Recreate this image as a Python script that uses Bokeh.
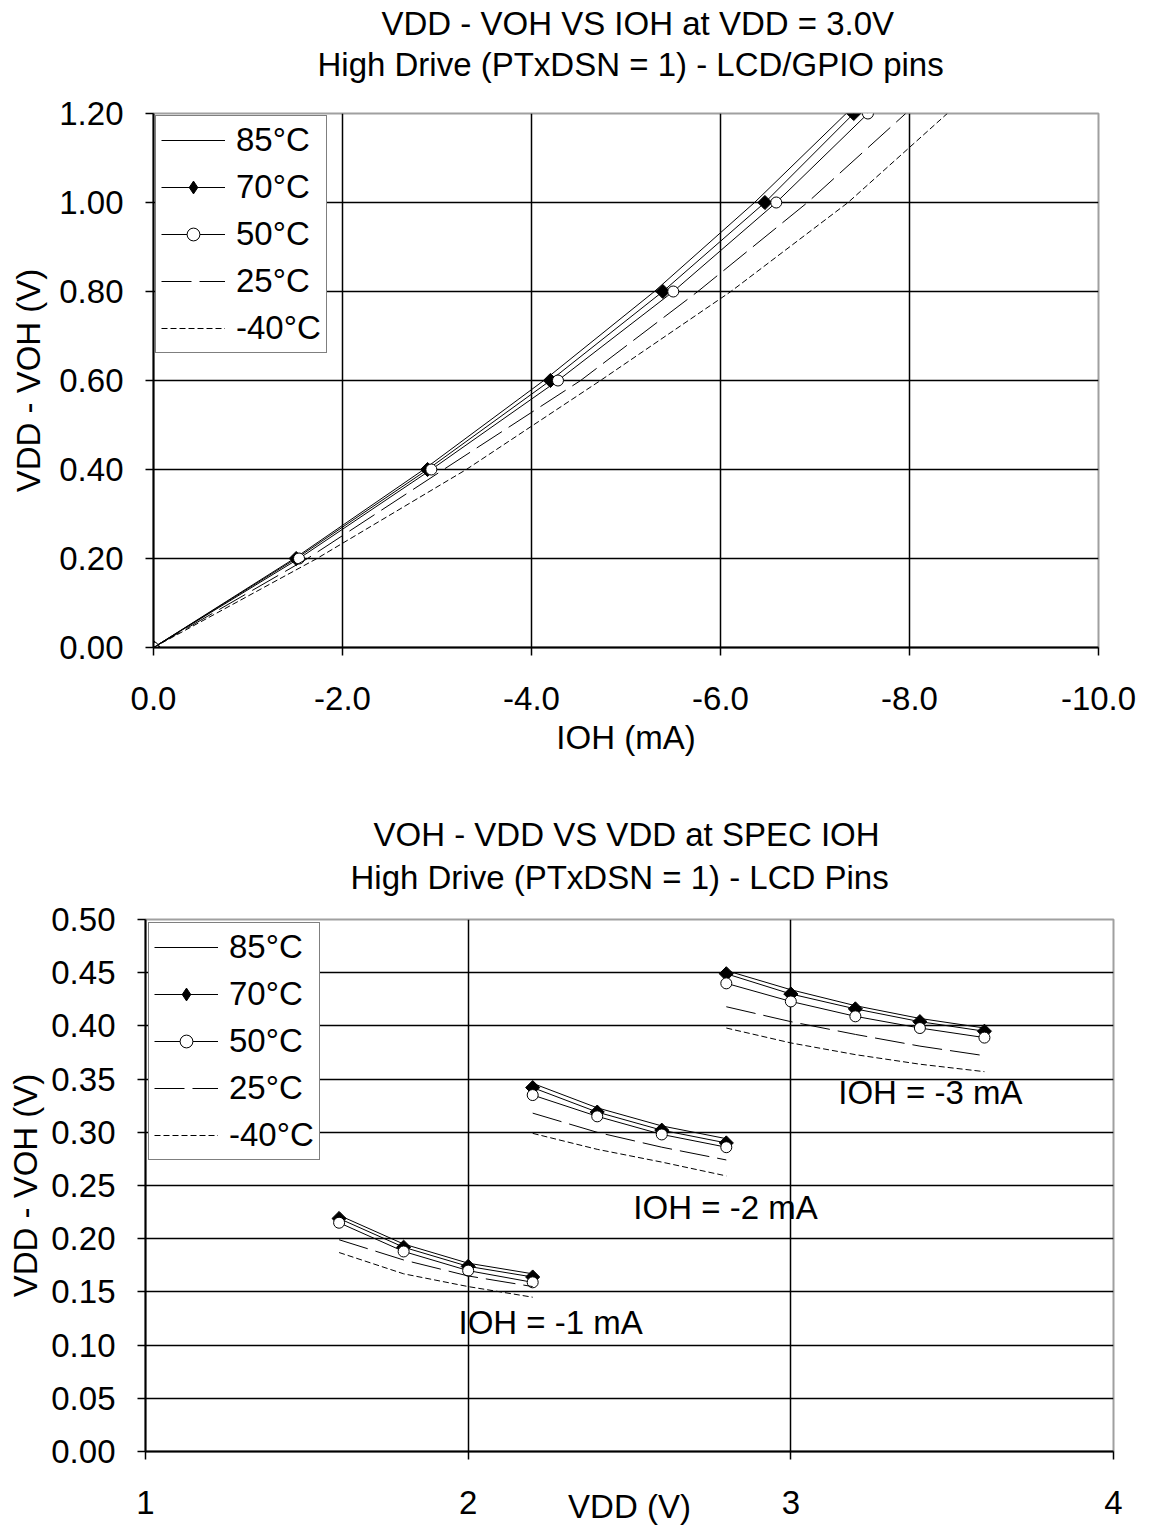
from bokeh.plotting import figure
from bokeh.models import Range1d, FixedTicker, NumeralTickFormatter, Legend, LegendItem, Label, Title
from bokeh.embed import file_html
from bokeh.resources import INLINE

FONT = "Liberation Sans"
FS = "33px"

# ---------------- Top chart data ----------------
vdrop_top = [0.0, 0.2, 0.4, 0.6, 0.8, 1.0, 1.2]
ioh_85 = [0.0, -1.49, -2.86, -4.13, -5.30, -6.36, -7.33]
ioh_70 = [0.0, -1.51, -2.90, -4.20, -5.39, -6.47, -7.41]
ioh_50 = [0.0, -1.54, -2.94, -4.28, -5.50, -6.59, -7.56]
ioh_25 = [0.0, -1.63, -3.07, -4.52, -5.76, -6.92, -7.96]
ioh_m40 = [0.0, -1.73, -3.31, -4.73, -6.11, -7.35, -8.40]
top_xticks = [0, -2, -4, -6, -8, -10]
top_yticks = [0.0, 0.2, 0.4, 0.6, 0.8, 1.0, 1.2]

# ---------------- Bottom chart data ----------------
vdd_1 = [1.6, 1.8, 2.0, 2.2]
v1_85 = [0.222, 0.195, 0.177, 0.167]
v1_70 = [0.219, 0.192, 0.174, 0.164]
v1_50 = [0.215, 0.188, 0.170, 0.159]
v1_25 = [0.199, 0.180, 0.165, 0.155]
v1_m40 = [0.187, 0.167, 0.155, 0.145]

vdd_2 = [2.2, 2.4, 2.6, 2.8]
v2_85 = [0.346, 0.323, 0.306, 0.294]
v2_70 = [0.342, 0.319, 0.302, 0.290]
v2_50 = [0.335, 0.315, 0.298, 0.286]
v2_25 = [0.318, 0.300, 0.286, 0.274]
v2_m40 = [0.299, 0.284, 0.272, 0.259]

vdd_3 = [2.8, 3.0, 3.2, 3.4, 3.6]
v3_85 = [0.452, 0.434, 0.419, 0.407, 0.398]
v3_70 = [0.449, 0.430, 0.416, 0.404, 0.395]
v3_50 = [0.440, 0.423, 0.409, 0.398, 0.389]
v3_25 = [0.418, 0.404, 0.392, 0.381, 0.372]
v3_m40 = [0.398, 0.384, 0.373, 0.364, 0.357]

bot_xticks = [1, 2, 3, 4]
bot_yticks = [0.0, 0.05, 0.10, 0.15, 0.20, 0.25, 0.30, 0.35, 0.40, 0.45, 0.50]

labels = ["85°C", "70°C", "50°C", "25°C", "-40°C"]
dashes = ["solid", "solid", "solid", "30 8", "6 3"]
markers = [None, "diamond", "circle", None, None]


def style(p, xticks, yticks, xfmt, yfmt, ylabel_standoff):
    p.background_fill_color = "white"
    p.border_fill_color = "white"
    p.outline_line_color = "#a0a0a0"
    p.outline_line_width = 2
    for ax in (p.xaxis[0], p.yaxis[0]):
        ax.axis_line_color = "black"
        ax.axis_line_width = 2
        ax.major_tick_line_color = "black"
        ax.major_tick_line_width = 1.5
        ax.major_tick_out = 8
        ax.major_tick_in = 0
        ax.minor_tick_line_color = None
        ax.major_label_text_font = FONT
        ax.major_label_text_font_size = FS
        ax.major_label_text_color = "black"
        ax.axis_label_text_font = FONT
        ax.axis_label_text_font_size = FS
        ax.axis_label_text_font_style = "normal"
        ax.axis_label_text_color = "black"
    p.xaxis[0].ticker = FixedTicker(ticks=xticks)
    p.yaxis[0].ticker = FixedTicker(ticks=yticks)
    p.xaxis[0].formatter = NumeralTickFormatter(format=xfmt)
    p.yaxis[0].formatter = NumeralTickFormatter(format=yfmt)
    p.xaxis[0].major_label_standoff = 31
    p.yaxis[0].major_label_standoff = 22
    p.yaxis[0].axis_label_standoff = ylabel_standoff
    p.xgrid[0].ticker = FixedTicker(ticks=xticks)
    p.ygrid[0].ticker = FixedTicker(ticks=yticks)
    for g in (p.xgrid[0], p.ygrid[0]):
        g.grid_line_color = "black"
        g.grid_line_width = 1.5


def draw_series(p, xs, ys, i, with_legend_proxy):
    rs = []
    rs.append(p.line(xs, ys, line_color="black", line_width=1, line_dash=dashes[i]))
    if markers[i] == "diamond":
        p.scatter(xs, ys, marker="square", angle=0.785398, size=10,
                  fill_color="black", line_color="black")
        if with_legend_proxy:
            # hidden diamond renderer used only for the legend swatch
            rs.append(p.scatter(xs, ys, marker="diamond", size=14, fill_color="black",
                                line_color="black", visible=False))
    elif markers[i] == "circle":
        rs.append(p.scatter(xs, ys, marker="circle", size=11, fill_color="white",
                            line_color="black", line_width=1))
    return rs


def make_legend(items, margin):
    leg = Legend(items=items, location="top_left")
    leg.margin = margin
    leg.padding = 5
    leg.spacing = 9
    leg.label_height = 38
    leg.glyph_height = 32
    leg.glyph_width = 64
    leg.label_standoff = 11
    leg.label_text_font = FONT
    leg.label_text_font_size = FS
    leg.label_text_color = "black"
    leg.border_line_color = "black"
    leg.border_line_width = 1.5
    leg.background_fill_color = "white"
    leg.background_fill_alpha = 1.0
    leg.inactive_fill_alpha = 0.0
    return leg


def add_titles(p, line1, line2, off1, off2, spacer, s1):
    p.add_layout(Title(text=" ", text_font_size="1px", standoff=spacer), "above")
    p.add_layout(Title(text=line2, align="left", offset=off2, text_font=FONT, text_font_size=FS,
                       text_font_style="normal", text_color="black", standoff=5), "above")
    p.add_layout(Title(text=line1, align="left", offset=off1, text_font=FONT, text_font_size=FS,
                       text_font_style="normal", text_color="black", standoff=s1), "above")


# ---------------- Top figure ----------------
p1 = figure(frame_width=945, frame_height=534,
            x_range=Range1d(0, -10), y_range=Range1d(0, 1.2),
            output_backend="svg", toolbar_location=None, title_location=None,
            min_border_left=153, min_border_right=40,
            min_border_top=113, min_border_bottom=113,
            x_axis_label="IOH (mA)", y_axis_label="VDD - VOH (V)")
style(p1, top_xticks, top_yticks, "0.0", "0.00", 9)
p1.xaxis[0].axis_label_standoff = 6

top_items = []
for i, xs in enumerate([ioh_85, ioh_70, ioh_50, ioh_25, ioh_m40]):
    rs = draw_series(p1, xs, vdrop_top, i, True)
    top_items.append(LegendItem(label=labels[i], renderers=rs))
p1.add_layout(make_legend(top_items, 2), "center")
add_titles(p1, "VDD - VOH VS IOH at VDD = 3.0V", "High Drive (PTxDSN = 1) - LCD/GPIO pins",
           228, 164, 25, 0)

# ---------------- Bottom figure ----------------
p2 = figure(frame_width=968, frame_height=532,
            x_range=Range1d(1, 4), y_range=Range1d(0, 0.5),
            output_backend="svg", toolbar_location=None, title_location=None,
            min_border_left=145, min_border_right=25,
            min_border_top=159, min_border_bottom=60,
            x_axis_label="VDD (V)", y_axis_label="VDD - VOH (V)")
style(p2, bot_xticks, bot_yticks, "0", "0.00", 4)
p2.xaxis[0].axis_label_standoff = -29

groups = [
    (vdd_1, [v1_85, v1_70, v1_50, v1_25, v1_m40]),
    (vdd_2, [v2_85, v2_70, v2_50, v2_25, v2_m40]),
    (vdd_3, [v3_85, v3_70, v3_50, v3_25, v3_m40]),
]
bot_items = []
for gi, (xs, series) in enumerate(groups):
    for i, ys in enumerate(series):
        rs = draw_series(p2, xs, ys, i, gi == 0)
        if gi == 0:
            bot_items.append(LegendItem(label=labels[i], renderers=rs))
p2.add_layout(make_legend(bot_items, 3), "center")

annot_text = ["IOH = -3 mA", "IOH = -2 mA", "IOH = -1 mA"]
annot_x = [3.147, 2.512, 1.970]
annot_y = [0.337, 0.229, 0.121]
for t, ax_, ay_ in zip(annot_text, annot_x, annot_y):
    p2.add_layout(Label(x=ax_, y=ay_, text=t, text_font=FONT, text_font_size=FS,
                        text_align="left", text_baseline="middle", text_color="black"))

add_titles(p2, "VOH - VDD VS VDD at SPEC IOH", "High Drive (PTxDSN = 1) - LCD Pins",
           228, 205, 18, 4)

open("out.html", "w").write(file_html([p1, p2], INLINE))
